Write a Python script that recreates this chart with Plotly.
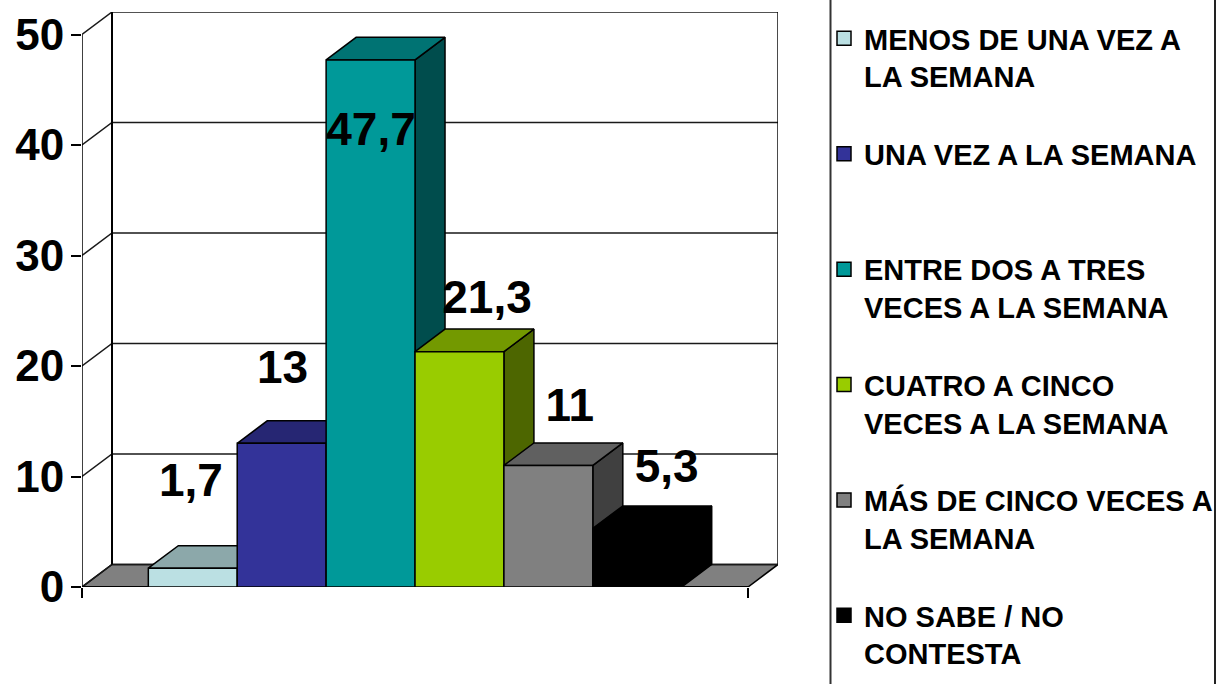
import plotly.graph_objects as go

categories = ["MENOS DE UNA VEZ A<br>LA SEMANA", "UNA VEZ A LA SEMANA<br> ",
              "ENTRE DOS A TRES<br>VECES A LA SEMANA", "CUATRO A CINCO<br>VECES A LA SEMANA",
              "MÁS DE CINCO VECES A<br>LA SEMANA", "NO SABE / NO<br>CONTESTA"]
values = [1.7, 13, 47.7, 21.3, 11, 5.3]
value_labels = ["1,7", "13", "47,7", "21,3", "11", "5,3"]
label_x = [-0.02, 1.01, 2.005, 3.31, 4.24, 5.33]
label_y = [9.24, 19.54, 41.0, 25.84, 16.04, 10.54]
front_colors = ["#BBE0E3", "#333399", "#009999", "#99CC00", "#808080", "#000000"]
top_colors = ["#8CA8AA", "#262673", "#007373", "#739900", "#606060", "#000000"]
side_colors = ["#5E7071", "#1A1A4D", "#004D4D", "#4D6600", "#404040", "#000000"]
y_ticks = [0, 10, 20, 30, 40, 50]

# chart geometry in axis units
X0, X1 = -1.246, 6.246      # front plane
DX, DY = 0.3375, 2.04       # depth of the box
Y_TOP = 50
EDGE = dict(color="#000000", width=1.5)
FONT = "Liberation Sans, Arial, sans-serif"

fig = go.Figure()


def poly(xs, ys, fill=None, line=EDGE):
    closed = fill is not None
    fig.add_trace(go.Scatter(
        x=xs + xs[:1] if closed else xs, y=ys + ys[:1] if closed else ys,
        mode="lines", line=line, fill="toself" if closed else None,
        fillcolor=fill, showlegend=False, hoverinfo="skip", cliponaxis=False))


# floor, walls and grid
poly([X0, X0 + DX, X1 + DX, X1], [0, DY, DY, 0], "#808080")
for t in y_ticks:
    poly([X0, X0 + DX, X1 + DX], [t, t + DY, t + DY], line=dict(color="#1a1a1a", width=1.5))
poly([X0 + DX, X0 + DX], [DY, Y_TOP + DY], line=dict(color="#000000", width=2))
poly([X1 + DX, X1 + DX], [DY, Y_TOP + DY], line=dict(color="#000000", width=1.5))
poly([X0, X0], [0, Y_TOP], line=dict(color="#000000", width=1.5))
poly([X0, X1], [0, 0], line=dict(color="#000000", width=2))

# bars, left to right
for i, v in enumerate(values):
    l, r = i - 0.5, i + 0.5
    poly([r, r + DX, r + DX, r], [0, DY, v + DY, v], side_colors[i])
    poly([l, l + DX, r + DX, r], [v, v + DY, v + DY, v], top_colors[i])
    poly([l, r, r, l], [0, 0, v, v], front_colors[i])

# legend swatches
for i, c in enumerate(categories):
    fig.add_trace(go.Scatter(
        x=[None], y=[None], mode="markers", name=c, legendgroup=str(i),
        marker=dict(symbol="square", size=14, color=front_colors[i],
                    line=dict(color="#000000", width=1.5))))

# data labels
fig.add_trace(go.Scatter(
    x=label_x, y=label_y, text=value_labels, mode="text", textposition="middle center",
    textfont=dict(family=FONT, size=46, color="#000000", weight="bold"), showlegend=False,
    hoverinfo="skip", cliponaxis=False))

paper_x = lambda px: (px - 82) / (778 - 82)
fig.update_layout(
    width=1217, height=684, plot_bgcolor="#FFFFFF", paper_bgcolor="#FFFFFF",
    margin=dict(l=82, r=439, t=12, b=97, autoexpand=False),
    font=dict(family=FONT, color="#000000"),
    xaxis=dict(range=[X0, X0 + 696 / 88.9], showgrid=False, zeroline=False, showline=False,
               tickmode="array", tickvals=[X0, X1], showticklabels=False,
               ticks="outside", ticklen=10, tickwidth=1.5, tickcolor="#000000"),
    yaxis=dict(range=[0, 575 / 11.05], showgrid=False, zeroline=False, showline=False,
               tickmode="array", tickvals=y_ticks, ticks="outside", ticklen=10,
               tickwidth=1.5, tickcolor="#000000", ticklabelstandoff=-2,
               tickfont=dict(family=FONT, size=44, color="#000000", weight="bold")),
    legend=dict(x=paper_x(831), y=1.0 - 1 / 575, xanchor="left", yanchor="top",
                yref="paper", traceorder="grouped", tracegroupgap=37, valign="top",
                indentation=-7, maxheight=680,
                itemsizing="trace", itemclick=False, itemdoubleclick=False,
                bgcolor="rgba(0,0,0,0)",
                font=dict(family=FONT, size=29, color="#000000", weight="bold")),
    shapes=[
        dict(type="line", xref="paper", yref="paper", x0=paper_x(830.5), x1=paper_x(830.5),
             y0=-0.5, y1=1.5, line=dict(color="#333333", width=2)),
        dict(type="line", xref="paper", yref="paper", x0=paper_x(1215), x1=paper_x(1215),
             y0=-0.5, y1=1.5, line=dict(color="#222222", width=2)),
    ],
)
fig.write_html("out.html", config={"displayModeBar": False},
               post_script="document.body.style.margin='0';document.documentElement.style.overflow='hidden';")
